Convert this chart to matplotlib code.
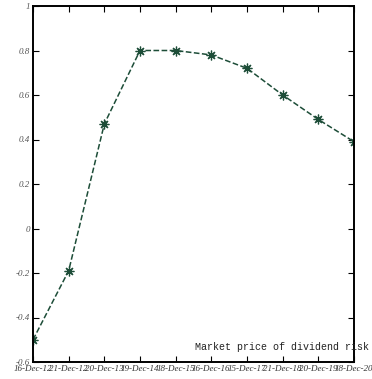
import matplotlib
matplotlib.use("Agg")
import matplotlib.pyplot as plt
import numpy as np

dates = ["16-Dec-12", "21-Dec-12", "20-Dec-13", "19-Dec-14", "18-Dec-15",
         "16-Dec-16", "15-Dec-17", "21-Dec-18", "20-Dec-19", "18-Dec-20"]
mpr = [-0.50, -0.19, 0.47, 0.80, 0.80, 0.78, 0.72, 0.60, 0.49, 0.39]
yticks = [-0.6, -0.4, -0.2, 0, 0.2, 0.4, 0.6, 0.8, 1]
ylabels = ["-0.6", "-0.4", "-0.2", "0", "0.2", "0.4", "0.6", "0.8", "1"]

fig = plt.figure(figsize=(3.72, 3.79), dpi=100)
ax = fig.add_axes([33/372, 17/379, 321/372, 356/379])

x = np.arange(len(dates))
ax.plot(x, mpr, linestyle="--", color="#1d4d38", linewidth=1.1,
        marker=(8, 2, 0), markersize=7, markeredgewidth=0.9,
        markeredgecolor="#1d4d38")

ax.set_xlim(0, len(dates) - 1)
ax.set_ylim(-0.6, 1)
ax.set_xticks(x)
ax.set_xticklabels(dates, fontsize=6.5, family="Liberation Serif",
                   style="italic", color="#333333")
ax.set_yticks(yticks)
ax.set_yticklabels(ylabels, fontsize=6.5, family="Liberation Serif",
                   style="italic", color="#555555")
ax.tick_params(direction="in", length=4, width=0.8, top=True, right=True,
               pad=2, labeltop=False, labelright=False)
for s in ax.spines.values():
    s.set_linewidth(1.4)

fig.text(195/372, (379-347)/379, "Market price of dividend risk",
         family="Liberation Mono", fontsize=7.2, va="center", ha="left",
         color="#222222")

fig.savefig("out.png", dpi=100)
